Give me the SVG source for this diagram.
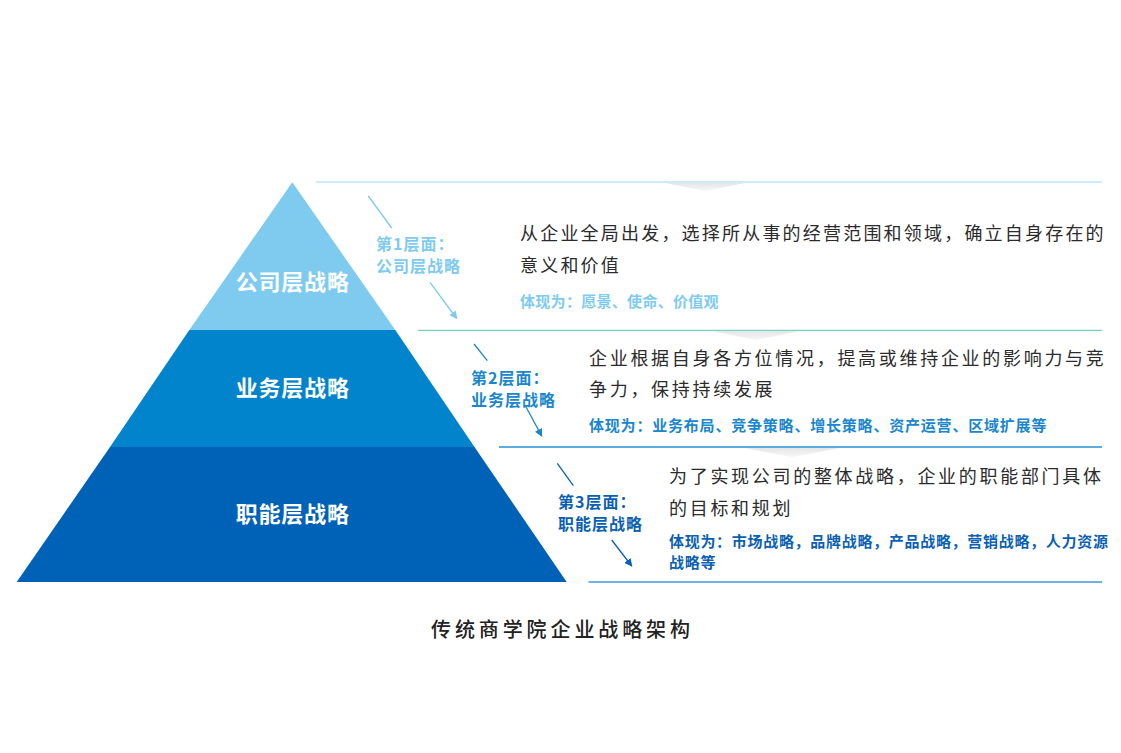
<svg xmlns="http://www.w3.org/2000/svg" width="1121" height="753" viewBox="0 0 1121 753">
<style>
text{font-family:"Noto Sans CJK SC","Noto Sans",sans-serif;}
.tri{font-size:22px;font-weight:bold;fill:#ffffff;letter-spacing:0.8px;text-anchor:middle;}
.lab{font-size:16px;font-weight:bold;letter-spacing:1px;}
.desc{font-size:18px;fill:#2b2b2b;}
.show{font-size:15px;font-weight:bold;}
.c1{fill:#7ecbef;}
.c2{fill:#1a86cc;}
.c3{fill:#0a60b2;}
.cap{font-size:20px;font-weight:500;fill:#222222;letter-spacing:3.9px;}
.conn line{fill:none;stroke-width:1.3;}
</style>
<defs>
<marker id="a1" markerWidth="8" markerHeight="8" refX="7" refY="4" orient="auto" markerUnits="userSpaceOnUse"><path d="M0,0 L8,4 L0,8 Z" fill="#7ecbef"/></marker>
<marker id="a2" markerWidth="8" markerHeight="8" refX="7" refY="4" orient="auto" markerUnits="userSpaceOnUse"><path d="M0,0 L8,4 L0,8 Z" fill="#1a86cc"/></marker>
<marker id="a3" markerWidth="8" markerHeight="8" refX="7" refY="4" orient="auto" markerUnits="userSpaceOnUse"><path d="M0,0 L8,4 L0,8 Z" fill="#0a60b2"/></marker>
<linearGradient id="sh" x1="0" y1="0" x2="0" y2="1"><stop offset="0" stop-color="#e6e6e6"/><stop offset="1" stop-color="#f7f7f7"/></linearGradient>
</defs>
<rect width="1121" height="753" fill="#ffffff"/>

<g id="pyramid">
<polygon points="292.3,182.3 189.3,330 395.3,330" fill="#7ecbef"/>
<polygon points="189.3,330 395.3,330 474.5,447 110,447" fill="#0284cc"/>
<polygon points="110,447 474.5,447 566.7,582 16.7,582" fill="#0062b6"/>
</g>

<g id="shadows">
<polygon points="665,183 745,183 705,191" fill="url(#sh)"/>
<polygon points="712,331 800,331 756,340" fill="url(#sh)"/>
<polygon points="745,448 840,448 792,457" fill="url(#sh)"/>
</g>

<g id="level1">
<text class="tri" x="292.7" y="290">公司层战略</text>
<text class="lab c1" x="376" y="250">第1层面：</text>
<text class="lab c1" x="376" y="272">公司层战略</text>
<text class="desc" x="520" y="240" style="letter-spacing:2.2px">从企业全局出发，选择所从事的经营范围和领域，确立自身存在的</text>
<text class="desc" x="520" y="272" style="letter-spacing:2.2px">意义和价值</text>
<text class="show c1" x="520" y="307" style="letter-spacing:0.3px">体现为：愿景、使命、价值观</text>
</g>

<g id="level2">
<text class="tri" x="292.7" y="396">业务层战略</text>
<text class="lab c2" x="471" y="384">第2层面：</text>
<text class="lab c2" x="471" y="406">业务层战略</text>
<text class="desc" x="589" y="365" style="letter-spacing:2.7px">企业根据自身各方位情况，提高或维持企业的影响力与竞</text>
<text class="desc" x="589" y="396" style="letter-spacing:2.7px">争力，保持持续发展</text>
<text class="show c2" x="589" y="431" style="letter-spacing:0.8px">体现为：业务布局、竞争策略、增长策略、资产运营、区域扩展等</text>
</g>

<g id="level3">
<text class="tri" x="292.7" y="522">职能层战略</text>
<text class="lab c3" x="558" y="508">第3层面：</text>
<text class="lab c3" x="558" y="530">职能层战略</text>
<text class="desc" x="669" y="483" style="letter-spacing:2.7px">为了实现公司的整体战略，企业的职能部门具体</text>
<text class="desc" x="669" y="515" style="letter-spacing:2.7px">的目标和规划</text>
<text class="show c3" x="669" y="547" style="letter-spacing:0.7px">体现为：市场战略，品牌战略，产品战略，营销战略，人力资源</text>
<text class="show c3" x="669" y="568" style="letter-spacing:0.7px">战略等</text>
</g>

<g class="conn" id="connectors">
<line x1="316" y1="182" x2="1102" y2="182" stroke="#bde5f8" stroke-width="2"/>
<line x1="418" y1="330.3" x2="1102" y2="330.3" stroke="#72d5c1" stroke-width="1.6"/>
<line x1="499" y1="447" x2="1102" y2="447" stroke="#2a8fd2" stroke-width="1.6"/>
<line x1="588.5" y1="582" x2="1102" y2="582" stroke="#3a9ad8" stroke-width="1.6"/>
<line x1="368.3" y1="196" x2="391.7" y2="228" stroke="#7ecbef"/>
<line x1="430" y1="282.3" x2="456.7" y2="318.5" stroke="#7ecbef" marker-end="url(#a1)"/>
<line x1="474" y1="344" x2="487.3" y2="360.7" stroke="#1a86cc"/>
<line x1="525" y1="405" x2="541.7" y2="436" stroke="#1a86cc" marker-end="url(#a2)"/>
<line x1="557.3" y1="463.3" x2="573.3" y2="485.7" stroke="#0a60b2"/>
<line x1="611.7" y1="540" x2="631.7" y2="566" stroke="#0a60b2" marker-end="url(#a3)"/>
</g>

<g id="caption">
<text class="cap" x="431" y="637">传统商学院企业战略架构</text>
</g>
</svg>
